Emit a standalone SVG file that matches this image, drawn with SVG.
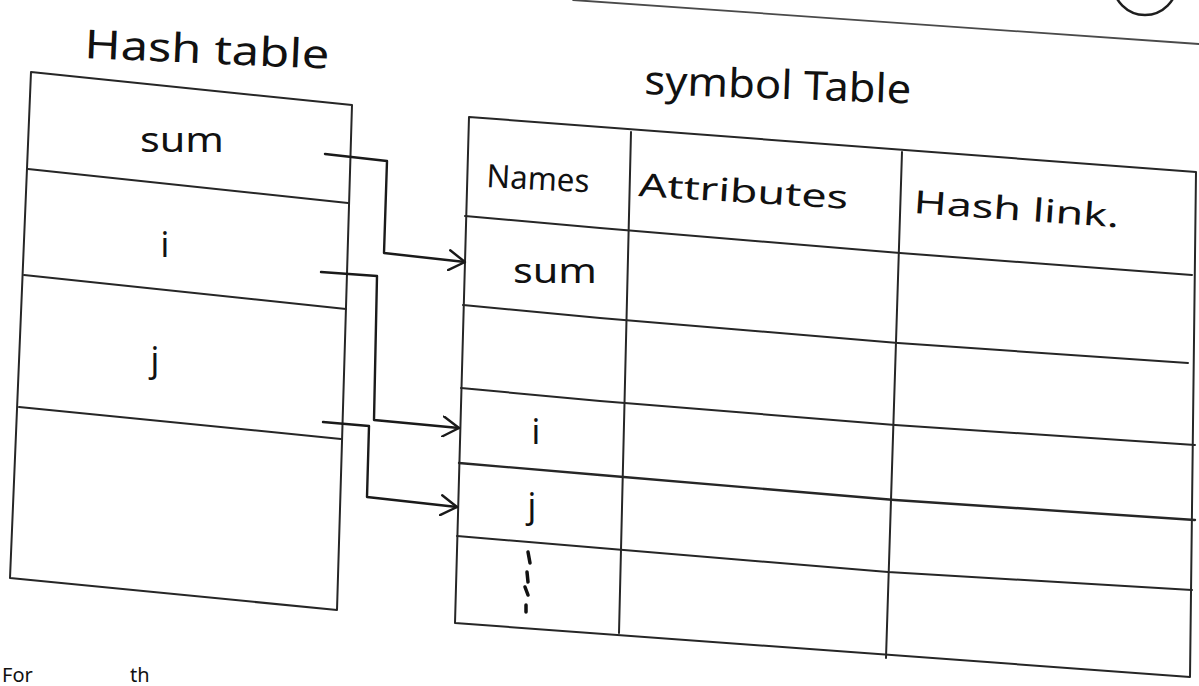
<svg xmlns="http://www.w3.org/2000/svg" width="1199" height="686" viewBox="0 0 1199 686">
  <defs>
    <style>
      .ink { fill: none; stroke: #262626; stroke-width: 2; stroke-linejoin: round; stroke-linecap: round; }
      .faint { fill: none; stroke: #4a4a4a; stroke-width: 1.8; stroke-linecap: round; }
      .wire { fill: none; stroke: #1a1a1a; stroke-width: 2.4; stroke-linejoin: round; stroke-linecap: round; }
      .hand { font-family: "Noto Sans", "DejaVu Sans", sans-serif; fill: #111; }
      .title { font-size: 40px; }
      .head { font-size: 32px; }
      .cell { font-size: 34px; }
    </style>
    <marker id="arrow-open" viewBox="0 0 18 22" refX="17" refY="11" markerWidth="18" markerHeight="22" markerUnits="userSpaceOnUse" orient="auto">
      <path d="M1,1 L17,11 L1,21" fill="none" stroke="#1a1a1a" stroke-width="2.4" stroke-linecap="round" stroke-linejoin="round"/>
    </marker>
  </defs>

  <rect width="1199" height="686" fill="#ffffff"/>

  <!-- page ruling and page-number circle -->
  <g id="page">
    <path class="faint" d="M573,0 L1199,44"/>
    <circle cx="1145" cy="-17" r="32" fill="none" stroke="#1e1e1e" stroke-width="2.5"/>
  </g>

  <!-- titles -->
  <g id="title-hash">
    <text class="hand title" x="84" y="58" textLength="245" lengthAdjust="spacingAndGlyphs" transform="rotate(2.5 84 58)">Hash table</text>
  </g>
  <g id="title-symbol">
    <text class="hand title" x="644" y="94" textLength="267" lengthAdjust="spacingAndGlyphs" transform="rotate(2 644 94)">symbol Table</text>
  </g>

  <!-- hash table -->
  <g id="hash-table">
    <polygon class="ink" points="31,72 352,105 337,610 10,578"/>
    <path class="ink" d="M28,169 L348,203"/>
    <path class="ink" d="M24,275 L346,309"/>
    <path class="ink" d="M19,407 L341,439"/>
    <g id="hash-sum">
      <text class="hand cell" x="140" y="152" textLength="84" lengthAdjust="spacingAndGlyphs">sum</text>
    </g>
    <g id="hash-i">
      <text class="hand cell" x="165" y="257" text-anchor="middle" font-size="42">i</text>
    </g>
    <g id="hash-j">
      <text class="hand cell" x="155" y="372" text-anchor="middle" font-size="50">j</text>
    </g>
    <g id="hash-empty"/>
  </g>

  <!-- symbol table -->
  <g id="symbol-table">
    <polygon class="ink" points="469,117 1196,172 1190,677 455,623"/>
    <path class="ink" d="M631,132 L619,633"/>
    <path class="ink" d="M902,152 L886,658"/>
    <polyline class="ink" points="465,216 600,228 900,253 1192,275"/>
    <polyline class="ink" points="463,305 600,318 898,343 1188,363"/>
    <polyline class="ink" points="461,388 600,401 895,425 1195,445"/>
    <polyline class="ink" points="459,463 600,475 895,500 1195,520" style="stroke-width:2.4"/>
    <polyline class="ink" points="457,536 600,548 888,572 1192,590"/>

    <g id="col-names">
      <text class="hand head" x="486" y="187" textLength="103" lengthAdjust="spacingAndGlyphs" transform="rotate(3 486 187)">Names</text>
    </g>
    <g id="col-attributes">
      <text class="hand head" x="638" y="196" textLength="210" lengthAdjust="spacingAndGlyphs" transform="rotate(3.5 638 196)">Attributes</text>
    </g>
    <g id="col-hashlink">
      <text class="hand head" x="913" y="213" textLength="206" lengthAdjust="spacingAndGlyphs" transform="rotate(4 913 213)">Hash link.</text>
    </g>

    <g id="sym-sum">
      <text class="hand cell" x="513" y="283" textLength="84" lengthAdjust="spacingAndGlyphs">sum</text>
    </g>
    <g id="sym-i">
      <text class="hand cell" x="536" y="444" text-anchor="middle" font-size="42">i</text>
    </g>
    <g id="sym-j">
      <text class="hand cell" x="532" y="518" text-anchor="middle" font-size="44">j</text>
    </g>
    <g id="sym-more">
      <path d="M528,552 L530,563 M527,572 L528,582 M525,587 L528,595 M526,605 L526,612" fill="none" stroke="#111" stroke-width="3.5" stroke-linecap="round"/>
    </g>
  </g>

  <!-- links from hash buckets to symbol table entries -->
  <g id="connectors">
    <path class="wire" d="M325,154 L387,161 L384,253 L465,262" marker-end="url(#arrow-open)"/>
    <path class="wire" d="M321,272 L377,276 L374,420 L459,428" marker-end="url(#arrow-open)"/>
    <path class="wire" d="M323,422 L369,426 L367,497 L457,507" marker-end="url(#arrow-open)"/>
  </g>

  <!-- start of the next line of notes at the foot of the page -->
  <g id="footer-line">
    <text class="hand" x="2" y="682" font-size="20">For <tspan x="130">th</tspan></text>
  </g>
</svg>
